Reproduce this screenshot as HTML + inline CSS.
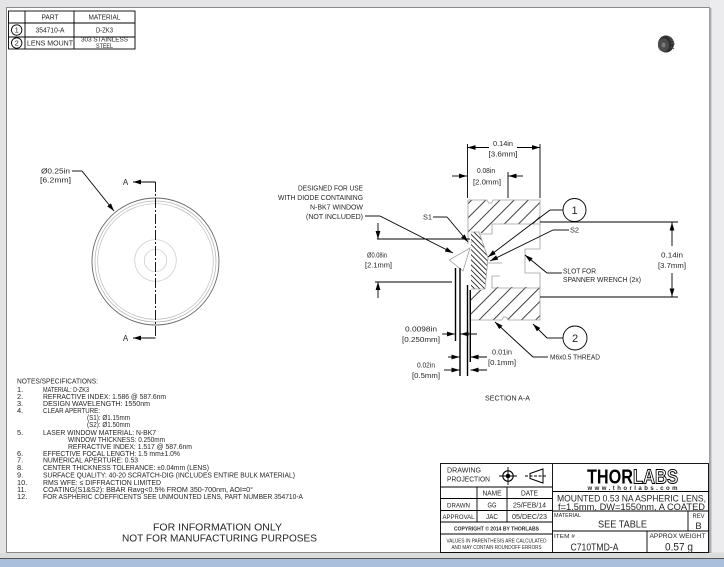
<!DOCTYPE html>
<html><head><meta charset="utf-8"><style>
html,body{margin:0;padding:0;background:#e4e4e6;}
svg{display:block;}
text{font-family:"Liberation Sans",sans-serif;fill:#262626;}
</style></head><body>
<svg width="724" height="567" viewBox="0 0 724 567" xmlns="http://www.w3.org/2000/svg">
<defs>
<marker id="a" markerWidth="8" markerHeight="6" refX="8" refY="3" orient="auto" markerUnits="userSpaceOnUse"><path d="M0,0.6 L8,3 L0,5.4z" fill="#000"/></marker>
<pattern id="hm" patternUnits="userSpaceOnUse" width="10" height="10" patternTransform="rotate(45)"><line x1="5" y1="0" x2="5" y2="10" stroke="#000" stroke-width="0.75"/></pattern>
<pattern id="hl" patternUnits="userSpaceOnUse" width="3.6" height="3.6" patternTransform="rotate(-45)"><line x1="1.8" y1="0" x2="1.8" y2="3.6" stroke="#000" stroke-width="0.75"/></pattern>
</defs>
<!-- page frame -->
<rect x="0" y="0" width="724" height="567" fill="#e4e4e6"/>
<rect x="710" y="0" width="14" height="552" fill="#ececef"/>
<rect x="6.5" y="7.5" width="703" height="545" fill="#fff" stroke="#8a8a8a" stroke-width="1"/>
<line x1="710.5" y1="8" x2="710.5" y2="553" stroke="#b0b0b0" stroke-width="2"/>
<rect x="0" y="553" width="724" height="5" fill="#dcdcdc"/>
<line x1="0" y1="558.5" x2="724" y2="558.5" stroke="#555" stroke-width="1"/>
<rect x="0" y="559" width="724" height="8" fill="#a9bfdc"/>

<!-- top-left parts table -->
<g stroke="#000" stroke-width="0.9" fill="none">
<rect x="8.5" y="11" width="126.5" height="38"/>
<line x1="8.5" y1="23" x2="135" y2="23"/>
<line x1="8.5" y1="37" x2="135" y2="37"/>
<line x1="25" y1="11" x2="25" y2="49"/>
<line x1="74" y1="11" x2="74" y2="49"/>
<circle cx="16.7" cy="30" r="5.2"/>
<circle cx="16.7" cy="43" r="5.2"/>
</g>
<g font-size="7" text-anchor="middle">
<text x="50" y="19.5" textLength="17" lengthAdjust="spacingAndGlyphs">PART</text>
<text x="104.5" y="19.5" textLength="32" lengthAdjust="spacingAndGlyphs">MATERIAL</text>
<text x="50" y="32.5" textLength="29" lengthAdjust="spacingAndGlyphs">354710-A</text>
<text x="104.5" y="32.5" textLength="17" lengthAdjust="spacingAndGlyphs">D-ZK3</text>
<text x="50" y="45.5" textLength="46" lengthAdjust="spacingAndGlyphs">LENS MOUNT</text>
<text x="104.5" y="41.5" font-size="6.3" textLength="47" lengthAdjust="spacingAndGlyphs">303 STAINLESS</text>
<text x="104.5" y="48" font-size="6.3" textLength="17" lengthAdjust="spacingAndGlyphs">STEEL</text>
<text x="16.7" y="32.6" font-size="7.5">1</text>
<text x="16.7" y="45.6" font-size="7.5">2</text>
</g>

<!-- top right product icon -->
<g>
<ellipse cx="666" cy="44" rx="8" ry="8.5" fill="#2e2e2e"/>
<ellipse cx="663.5" cy="45" rx="5.6" ry="6.6" fill="#4c4c4c"/>
<ellipse cx="663.5" cy="45" rx="2" ry="2.4" fill="#7a7a7a"/>
<path d="M668,36.5 L672,38.5 M670,39.5 L674,41.5 M671,43 L675,44 M671,47 L674,49" stroke="#555" stroke-width="1"/>
</g>

<!-- left view -->
<g fill="none">
<circle cx="155.5" cy="261.5" r="63.5" stroke="#666" stroke-width="0.9"/>
<circle cx="155.5" cy="261.5" r="60.5" stroke="#b0b0b0" stroke-width="0.7"/>
<circle cx="155.5" cy="261.5" r="57.8" stroke="#bdbdbd" stroke-width="0.7"/>
<circle cx="155.5" cy="260.5" r="20.8" stroke="#c8c8c8" stroke-width="0.7"/>
<circle cx="155.5" cy="260.5" r="11.2" stroke="#c8c8c8" stroke-width="0.7"/>
<line x1="155.5" y1="182" x2="155.5" y2="338" stroke="#000" stroke-width="0.9" stroke-dasharray="10,2,2,2"/>
<line x1="155.5" y1="182" x2="133" y2="182" stroke="#000" stroke-width="0.9" marker-end="url(#a)"/>
<line x1="155.5" y1="338" x2="133" y2="338" stroke="#000" stroke-width="0.9" marker-end="url(#a)"/>
<polyline points="72,171 82,171" stroke="#000" stroke-width="0.9"/>
<line x1="82" y1="171" x2="114" y2="211" stroke="#000" stroke-width="0.9" marker-end="url(#a)"/>
</g>
<text x="125.5" y="185" font-size="8" text-anchor="middle">A</text>
<text x="125.5" y="341" font-size="8" text-anchor="middle">A</text>
<text x="41" y="173.5" font-size="7.5" textLength="29" lengthAdjust="spacingAndGlyphs">Ø0.25in</text>
<text x="40" y="182.5" font-size="7.5" textLength="31" lengthAdjust="spacingAndGlyphs">[6.2mm]</text>

<!-- section A-A: hatching -->
<path d="M468,200 H487 L488.5,203 H491.5 L493,200 H540 V224 H492 V233 H479 L471,243 H468 Z" fill="url(#hm)"/>
<path d="M471,232 H479 L488,258 L485,289 H471 Z" fill="url(#hl)"/>
<path d="M470,290 H485 L492,287 H540 V320 H508 L506.5,317 H503.5 L502,320 H470 Z" fill="url(#hm)"/>
<!-- section outlines (gray) -->
<g fill="none" stroke="#a0a0a0" stroke-width="0.8">
<path d="M468,244 V200 H487 L488.5,203 H491.5 L493,200 H540 V249 H525 V273 H540 V320 H508 L506.5,317 H503.5 L502,320 H470 V290"/>
<path d="M540,224 H492 V234 H480"/>
<path d="M492,276 H500 M492,276 V288 H540"/>
<path d="M488,263 H502"/>
<path d="M471,232 H479 L488,258 L485,289 H471"/>
<path d="M449.3,260 L470,248 L463,271 Z"/>
</g>
<!-- window / plate lines -->
<g stroke="#000" stroke-width="1.4">
<line x1="455.5" y1="268" x2="455.5" y2="341"/>
<line x1="460" y1="268" x2="460" y2="376"/>
<line x1="467.5" y1="285" x2="467.5" y2="376"/>
<line x1="470.3" y1="290" x2="470.3" y2="362"/>
</g>
<!-- section dimensions and leaders -->
<g fill="none" stroke="#000" stroke-width="0.9">
<line x1="467.5" y1="144" x2="467.5" y2="198"/>
<line x1="540" y1="144" x2="540" y2="198"/>
<line x1="508" y1="172" x2="508" y2="198"/>
<line x1="489" y1="147.5" x2="467.5" y2="147.5" marker-end="url(#a)"/>
<line x1="517" y1="147.5" x2="540" y2="147.5" marker-end="url(#a)"/>
<line x1="452" y1="176" x2="467" y2="176" marker-end="url(#a)"/>
<line x1="523" y1="176" x2="508.5" y2="176" marker-end="url(#a)"/>
<line x1="377" y1="239" x2="470" y2="239"/>
<line x1="375" y1="282" x2="452" y2="282"/>
<line x1="378" y1="223" x2="378" y2="239" marker-end="url(#a)"/>
<line x1="378" y1="298" x2="378" y2="282" marker-end="url(#a)"/>
<polyline points="365,216 380,216"/>
<line x1="380" y1="216" x2="453" y2="253" marker-end="url(#a)"/>
<polyline points="433,217 447,217"/>
<line x1="447" y1="217" x2="468" y2="242" marker-end="url(#a)"/>
<polyline points="562.5,210 550,210"/>
<line x1="550" y1="210" x2="488" y2="257" marker-end="url(#a)"/>
<circle cx="574.5" cy="210" r="11.5"/>
<polyline points="569,230 553,230"/>
<line x1="553" y1="230" x2="490" y2="261" marker-end="url(#a)"/>
<polyline points="562,273 547,273"/>
<line x1="547" y1="273" x2="525" y2="255" marker-end="url(#a)"/>
<line x1="540" y1="222" x2="678" y2="222"/>
<line x1="540" y1="297" x2="678" y2="297"/>
<line x1="672" y1="246" x2="672" y2="222.5" marker-end="url(#a)"/>
<line x1="672" y1="273" x2="672" y2="296.5" marker-end="url(#a)"/>
<line x1="442" y1="334" x2="455" y2="334" marker-end="url(#a)"/>
<line x1="477" y1="334" x2="460.5" y2="334" marker-end="url(#a)"/>
<line x1="448" y1="357" x2="459.5" y2="357" marker-end="url(#a)"/>
<line x1="487" y1="357" x2="470.5" y2="357" marker-end="url(#a)"/>
<line x1="444" y1="370" x2="459.5" y2="370" marker-end="url(#a)"/>
<line x1="487" y1="370" x2="470.5" y2="370" marker-end="url(#a)"/>
<polyline points="548,357 533,357"/>
<line x1="533" y1="357" x2="495" y2="322" marker-end="url(#a)"/>
<polyline points="563,338 547,338"/>
<line x1="547" y1="338" x2="533" y2="324" marker-end="url(#a)"/>
<circle cx="575" cy="338" r="12"/>
</g>
<g font-size="7.4">
<text x="574.5" y="214" font-size="11" text-anchor="middle">1</text>
<text x="575" y="342" font-size="11" text-anchor="middle">2</text>
<text x="503" y="146" text-anchor="middle" textLength="20" lengthAdjust="spacingAndGlyphs">0.14in</text>
<text x="503" y="156.5" text-anchor="middle" textLength="29" lengthAdjust="spacingAndGlyphs">[3.6mm]</text>
<text x="486" y="173" text-anchor="middle" textLength="18" lengthAdjust="spacingAndGlyphs">0.08in</text>
<text x="487" y="184.5" text-anchor="middle" textLength="28" lengthAdjust="spacingAndGlyphs">[2.0mm]</text>
<text x="377" y="257.5" text-anchor="middle" textLength="20" lengthAdjust="spacingAndGlyphs">Ø0.08in</text>
<text x="378.5" y="267.5" text-anchor="middle" textLength="27" lengthAdjust="spacingAndGlyphs">[2.1mm]</text>
<text x="363" y="190.5" text-anchor="end" textLength="65" lengthAdjust="spacingAndGlyphs">DESIGNED FOR USE</text>
<text x="363" y="200" text-anchor="end" textLength="85" lengthAdjust="spacingAndGlyphs">WITH DIODE CONTAINING</text>
<text x="363" y="209.5" text-anchor="end" textLength="53" lengthAdjust="spacingAndGlyphs">N-BK7 WINDOW</text>
<text x="363" y="219" text-anchor="end" textLength="57" lengthAdjust="spacingAndGlyphs">(NOT INCLUDED)</text>
<text x="423" y="219.5" textLength="9" lengthAdjust="spacingAndGlyphs">S1</text>
<text x="570" y="232.5" textLength="9" lengthAdjust="spacingAndGlyphs">S2</text>
<text x="563" y="273.5" textLength="33" lengthAdjust="spacingAndGlyphs">SLOT FOR</text>
<text x="563" y="282" textLength="78" lengthAdjust="spacingAndGlyphs">SPANNER WRENCH (2x)</text>
<text x="672" y="257.5" text-anchor="middle" textLength="22" lengthAdjust="spacingAndGlyphs">0.14in</text>
<text x="672" y="268" text-anchor="middle" textLength="28" lengthAdjust="spacingAndGlyphs">[3.7mm]</text>
<text x="421" y="331.5" text-anchor="middle" textLength="32" lengthAdjust="spacingAndGlyphs">0.0098in</text>
<text x="421" y="342" text-anchor="middle" textLength="38" lengthAdjust="spacingAndGlyphs">[0.250mm]</text>
<text x="502" y="354.5" text-anchor="middle" textLength="20" lengthAdjust="spacingAndGlyphs">0.01in</text>
<text x="502" y="365" text-anchor="middle" textLength="28" lengthAdjust="spacingAndGlyphs">[0.1mm]</text>
<text x="426" y="367.5" text-anchor="middle" textLength="18" lengthAdjust="spacingAndGlyphs">0.02in</text>
<text x="426" y="378" text-anchor="middle" textLength="28" lengthAdjust="spacingAndGlyphs">[0.5mm]</text>
<text x="550" y="359.5" textLength="50" lengthAdjust="spacingAndGlyphs">M6x0.5 THREAD</text>
<text x="507.5" y="400.5" text-anchor="middle" textLength="45" lengthAdjust="spacingAndGlyphs">SECTION A-A</text>
</g>

<!-- notes -->
<g font-size="7.4">
<text x="17" y="383.5" textLength="81" lengthAdjust="spacingAndGlyphs">NOTES/SPECIFICATIONS:</text>
<text x="17" y="391.8">1.</text><text x="43" y="391.8" textLength="46" lengthAdjust="spacingAndGlyphs">MATERIAL: D-ZK3</text>
<text x="17" y="399.2">2.</text><text x="43" y="399.2" textLength="123" lengthAdjust="spacingAndGlyphs">REFRACTIVE INDEX: 1.586 @ 587.6nm</text>
<text x="17" y="405.8">3.</text><text x="43" y="405.8" textLength="107" lengthAdjust="spacingAndGlyphs">DESIGN WAVELENGTH: 1550nm</text>
<text x="17" y="413.2">4.</text><text x="43" y="413.2" textLength="57" lengthAdjust="spacingAndGlyphs">CLEAR APERTURE:</text>
<text x="87" y="420.2" textLength="43" lengthAdjust="spacingAndGlyphs">(S1): Ø1.15mm</text>
<text x="87" y="426.8" textLength="43" lengthAdjust="spacingAndGlyphs">(S2): Ø1.50mm</text>
<text x="17" y="435.2">5.</text><text x="43" y="435.2" textLength="113" lengthAdjust="spacingAndGlyphs">LASER WINDOW MATERIAL: N-BK7</text>
<text x="68" y="441.8" textLength="97" lengthAdjust="spacingAndGlyphs">WINDOW THICKNESS: 0.250mm</text>
<text x="68" y="449.2" textLength="124" lengthAdjust="spacingAndGlyphs">REFRACTIVE INDEX: 1.517 @ 587.6nm</text>
<text x="17" y="455.8">6.</text><text x="43" y="455.8" textLength="137" lengthAdjust="spacingAndGlyphs">EFFECTIVE FOCAL LENGTH: 1.5 mm±1.0%</text>
<text x="17" y="462.5">7.</text><text x="43" y="462.5" textLength="95" lengthAdjust="spacingAndGlyphs">NUMERICAL APERTURE: 0.53</text>
<text x="17" y="469.8">8.</text><text x="43" y="469.8" textLength="166" lengthAdjust="spacingAndGlyphs">CENTER THICKNESS TOLERANCE: ±0.04mm (LENS)</text>
<text x="17" y="477.5">9.</text><text x="43" y="477.5" textLength="252" lengthAdjust="spacingAndGlyphs">SURFACE QUALITY: 40-20 SCRATCH-DIG (INCLUDES ENTIRE BULK MATERIAL)</text>
<text x="17" y="484.8">10.</text><text x="43" y="484.8" textLength="118" lengthAdjust="spacingAndGlyphs">RMS WFE: ≤ DIFFRACTION LIMITED</text>
<text x="17" y="491.8">11.</text><text x="43" y="491.8" textLength="210" lengthAdjust="spacingAndGlyphs">COATING(S1&amp;S2): BBAR Ravg&lt;0.5% FROM 350-700nm, AOI=0°</text>
<text x="17" y="499.2">12.</text><text x="43" y="499.2" textLength="260" lengthAdjust="spacingAndGlyphs">FOR ASPHERIC COEFFICENTS SEE UNMOUNTED LENS, PART NUMBER 354710-A</text>
</g>

<!-- bottom note -->
<g font-size="10.5" text-anchor="middle" fill="#333">
<text x="217.5" y="530.5" textLength="129" lengthAdjust="spacingAndGlyphs">FOR INFORMATION ONLY</text>
<text x="219.5" y="541.5" textLength="195" lengthAdjust="spacingAndGlyphs">NOT FOR MANUFACTURING PURPOSES</text>
</g>

<!-- title block -->
<g fill="none" stroke="#000" stroke-width="0.9">
<rect x="440.5" y="463.5" width="268" height="89"/>
<line x1="552.5" y1="463.5" x2="552.5" y2="552.5"/>
<line x1="440.5" y1="487" x2="552.5" y2="487"/>
<line x1="440.5" y1="498.5" x2="552.5" y2="498.5"/>
<line x1="440.5" y1="510.5" x2="552.5" y2="510.5"/>
<line x1="440.5" y1="522" x2="552.5" y2="522"/>
<line x1="440.5" y1="534" x2="552.5" y2="534"/>
<line x1="477" y1="487" x2="477" y2="522"/>
<line x1="507" y1="487" x2="507" y2="522"/>
<line x1="552.5" y1="491.5" x2="708.5" y2="491.5"/>
<line x1="552.5" y1="511" x2="708.5" y2="511"/>
<line x1="552.5" y1="531" x2="708.5" y2="531"/>
<line x1="688" y1="511" x2="688" y2="531"/>
<line x1="647" y1="531" x2="647" y2="552.5"/>
<circle cx="508" cy="476" r="5.2" stroke-width="1.1"/>
<circle cx="508" cy="476" r="1.8" fill="#000"/>
<line x1="499" y1="476" x2="517" y2="476"/>
<line x1="508" y1="467" x2="508" y2="485"/>
<path d="M530,473.5 L543,469 L543,483 L530,478.5 Z" stroke-width="1"/>
<line x1="525" y1="476" x2="547" y2="476" stroke-dasharray="3,1.5"/>
</g>
<g font-size="7">
<text x="447" y="472.5" textLength="34" lengthAdjust="spacingAndGlyphs">DRAWING</text>
<text x="447" y="481.5" textLength="43" lengthAdjust="spacingAndGlyphs">PROJECTION</text>
<text x="492" y="495.5" text-anchor="middle" textLength="19" lengthAdjust="spacingAndGlyphs">NAME</text>
<text x="529.5" y="495.5" text-anchor="middle" textLength="17" lengthAdjust="spacingAndGlyphs">DATE</text>
<text x="458.5" y="507.5" font-size="6" text-anchor="middle" textLength="23" lengthAdjust="spacingAndGlyphs">DRAWN</text>
<text x="492" y="507.5" text-anchor="middle" textLength="9" lengthAdjust="spacingAndGlyphs">GG</text>
<text x="529.5" y="507.5" text-anchor="middle" textLength="33" lengthAdjust="spacingAndGlyphs">25/FEB/14</text>
<text x="458.5" y="519" font-size="6" text-anchor="middle" textLength="32" lengthAdjust="spacingAndGlyphs">APPROVAL</text>
<text x="492" y="519" text-anchor="middle" textLength="12" lengthAdjust="spacingAndGlyphs">JAC</text>
<text x="529.5" y="519" text-anchor="middle" textLength="35" lengthAdjust="spacingAndGlyphs">05/DEC/23</text>
<text x="496.5" y="530.5" font-size="5.3" font-weight="bold" text-anchor="middle" textLength="85" lengthAdjust="spacingAndGlyphs">COPYRIGHT © 2014 BY THORLABS</text>
<text x="496.5" y="542.5" font-size="5" text-anchor="middle" textLength="100" lengthAdjust="spacingAndGlyphs">VALUES IN PARENTHESIS ARE CALCULATED</text>
<text x="496.5" y="549" font-size="5" text-anchor="middle" textLength="90" lengthAdjust="spacingAndGlyphs">AND MAY CONTAIN ROUNDOFF ERRORS</text>
</g>
<text x="587" y="483.5" font-size="20" font-weight="bold" style="fill:#000" textLength="46" lengthAdjust="spacingAndGlyphs">THOR</text>
<text x="633" y="483.5" font-size="20" font-weight="bold" style="fill:#fff;stroke:#000;stroke-width:1" textLength="45" lengthAdjust="spacingAndGlyphs">LABS</text>
<text x="587.5" y="490" font-size="6" font-weight="bold" textLength="90" lengthAdjust="spacing">www.thorlabs.com</text>
<text x="557" y="501.5" font-size="9.5" textLength="149" lengthAdjust="spacingAndGlyphs">MOUNTED 0.53 NA ASPHERIC LENS,</text>
<text x="558" y="510" font-size="9.5" textLength="147" lengthAdjust="spacingAndGlyphs">f=1.5mm, DW=1550nm, A COATED</text>
<text x="554" y="517" font-size="5.5" textLength="27" lengthAdjust="spacingAndGlyphs">MATERIAL</text>
<text x="622.5" y="527.5" font-size="10" text-anchor="middle" textLength="49" lengthAdjust="spacingAndGlyphs">SEE TABLE</text>
<text x="698.5" y="518" font-size="6" text-anchor="middle" textLength="12" lengthAdjust="spacingAndGlyphs">REV</text>
<text x="698.5" y="529" font-size="9.5" text-anchor="middle">B</text>
<text x="554" y="538" font-size="5.5" textLength="21" lengthAdjust="spacingAndGlyphs">ITEM #</text>
<text x="594.5" y="550.5" font-size="10.5" text-anchor="middle" textLength="48" lengthAdjust="spacingAndGlyphs">C710TMD-A</text>
<text x="677.5" y="538" font-size="6" text-anchor="middle" textLength="56" lengthAdjust="spacingAndGlyphs">APPROX WEIGHT</text>
<text x="679" y="550.5" font-size="11" text-anchor="middle" textLength="28" lengthAdjust="spacingAndGlyphs">0.57 g</text>
</svg>
</body></html>
